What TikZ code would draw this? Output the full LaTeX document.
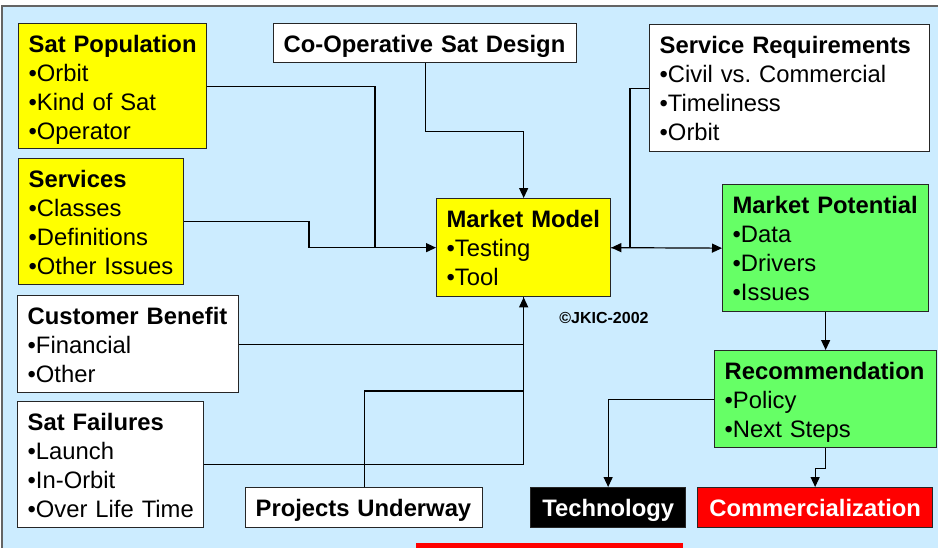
\documentclass[tikz,border=0pt]{standalone}
\usepackage{fontspec}
\setmainfont{Liberation Sans}
\usetikzlibrary{arrows.meta,calc}
\definecolor{skyback}{RGB}{204,236,255}
\definecolor{boxyellow}{RGB}{255,255,0}
\definecolor{boxgreen}{RGB}{102,255,102}
\definecolor{framegray}{RGB}{100,100,100}
\tikzset{
	box/.style={draw=black!85, line width=1.3pt, anchor=north west, inner xsep=10pt, inner ysep=0pt, align=left, text height=28.5pt, font=\fontsize{23.8}{29}\selectfont},
	conn/.style={line width=1.2pt, -{Triangle[length=10pt,width=9pt]}},
	wire/.style={line width=1.2pt},
}
\frenchspacing
\begin{document}
\begin{tikzpicture}[x=1pt, y=-1pt]
			%%%%% START %%%%%
			
			\useasboundingbox (0, 0) rectangle (938, 547);
			\clip (0, 0) rectangle (938, 547);
			\draw[fill=skyback, draw=framegray, line width=1.5pt] (2, 6) rectangle (950, 560);
			
			\node[box, fill=boxyellow, text width=168pt, text depth=96.5pt] (satpop) at (18, 23) {\textbf{Sat Population}\\•Orbit\\•Kind~of~Sat\\•Operator};
			\node[box, fill=boxyellow, text width=145pt, text depth=97.5pt] (services) at (18, 158) {\textbf{Services}\\•Classes\\•Definitions\\•Other~Issues};
			\node[box, fill=white, text width=201pt, text depth=68.5pt] (custben) at (17, 295) {\textbf{Customer~Benefit}\\•Financial\\•Other};
			\node[box, fill=white, text width=166pt, text depth=97.5pt] (satfail) at (17, 401) {\textbf{Sat Failures}\\•Launch\\•In-Orbit\\•Over~Life~Time};
			
			\node[box, fill=white, text width=283pt, text depth=10.5pt] (coop) at (273, 23) {\textbf{Co-Operative~Sat~Design}};
			\node[box, fill=boxyellow, text width=154pt, text depth=69.5pt] (mmodel) at (436, 198) {\textbf{Market~Model}\\•Testing\\•Tool};
			\node[box, fill=white, text width=217pt, text depth=11.5pt] (projects) at (245, 487) {\textbf{Projects~Underway}};
			
			\node[box, fill=white, text width=260pt, text depth=98.5pt] (servreq) at (649, 24) {\textbf{Service~Requirements}\\•Civil~vs.~Commercial\\•Timeliness\\•Orbit};
			\node[box, fill=boxgreen, text width=186pt, text depth=98.5pt] (mpot) at (722, 184) {\textbf{Market~Potential}\\•Data\\•Drivers\\•Issues};
			\node[box, fill=boxgreen, text width=202pt, text depth=68.5pt] (recom) at (714, 350) {\textbf{Recommendation}\\•Policy\\•Next~Steps};
			
			\node[box, fill=black, text=white, align=center, text width=135pt, text depth=11.5pt] (tech) at (530, 487) {\textbf{Technology}};
			\node[box, fill=red, text=white, align=center, text width=215pt, text depth=11.5pt] (comm) at (697, 487) {\textbf{Commercialization}};
			
			\node[font=\bfseries\fontsize{16}{19}\selectfont] (jkic) at (604, 318) {©JKIC-2002};
			
			\fill[red] (416, 543) rectangle (683, 560);
			
			% into the market model
			\draw[conn] (satpop.east) -| ([xshift=-61pt]mmodel.west) -- (mmodel.west);
			\draw[wire] (services.east) -| ([xshift=-127pt]mmodel.west) -- ([xshift=-61pt]mmodel.west);
			\draw[conn] (coop.south) -- ++(0, 68) -| (mmodel.north);
			\draw[conn] (servreq.west) -- ++(-19, 0) |- (mmodel.east);
			\draw[wire] (custben.east) -- (custben.east -| mmodel.south);
			\draw[wire] (projects.north) -- ++(0, -96) -| (mmodel.south);
			\draw[conn] (satfail.east) -| (mmodel.south);
			
			% out of it
			\draw[conn] (mmodel.east) -- (mpot.west);
			\draw[conn] (mpot.south) -- (recom.north);
			\draw[conn] (recom.west) -| (tech.north);
			\draw[conn] (recom.south) -- ++(0, 20) -| (comm.north);
			
			%%%%% END %%%%%
\end{tikzpicture}
\end{document}
